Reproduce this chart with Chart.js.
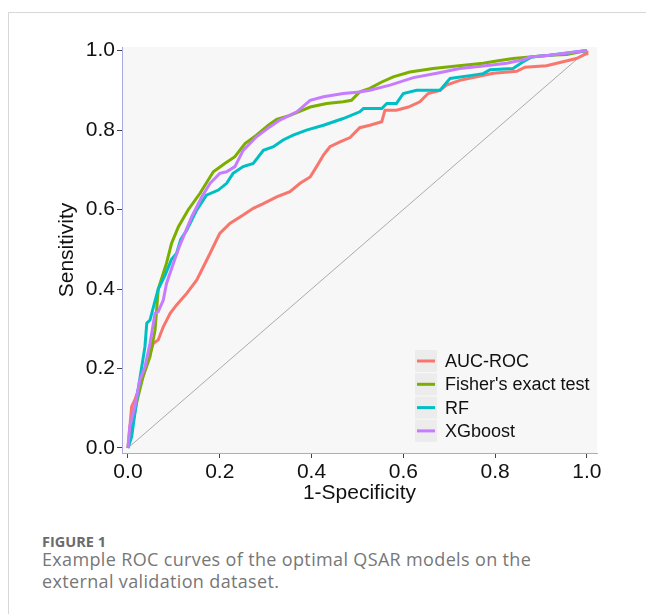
<!DOCTYPE html>
<html>
<head>
<meta charset="utf-8">
<script src="https://cdn.jsdelivr.net/npm/chart.js@4/dist/chart.umd.min.js"></script>
<style>
  html, body { margin: 0; padding: 0; background: #fff; width: 646px; height: 614px; overflow: hidden; }
  #card { position: absolute; left: 8px; top: 12px; right: -2px; bottom: -2px; border-top: 1px solid #d8d8d8; border-left: 1px solid #d8d8d8; }
  #c { position: absolute; left: 0; top: 0; }
  .cap { position: absolute; left: 42px; font-family: "Open Sans", sans-serif; color: #777; white-space: nowrap; }
  #figno { top: 534px; font-size: 14.5px; line-height: 16px; font-weight: 700; color: #6b6b6b; }
  #captext { top: 548px; font-size: 18px; line-height: 22px; letter-spacing: 0.35px; }
</style>
</head>
<body>
<div id="card"></div>
<canvas id="c" width="646" height="520"></canvas>
<div class="cap" id="figno">FIGURE 1</div>
<div class="cap" id="captext">Example ROC curves of the optimal QSAR models on the<br>external validation dataset.</div>
<script>
// ---- data ----
const seriesNames = ["AUC-ROC", "Fisher's exact test", "RF", "XGboost"];
const seriesColors = ["#F8766D", "#7CAE00", "#00BFC4", "#C77CFF"];
const tickValues = [0, 0.2, 0.4, 0.6, 0.8, 1.0];

const aucFpr = [0, 0.008, 0.015, 0.030, 0.044, 0.055, 0.066, 0.077, 0.092, 0.106, 0.128, 0.150, 0.157, 0.179, 0.200, 0.222, 0.251, 0.273, 0.295, 0.324, 0.353, 0.375, 0.397, 0.411, 0.426, 0.440, 0.462, 0.484, 0.505, 0.527, 0.553, 0.560, 0.585, 0.611, 0.636, 0.654, 0.680, 0.694, 0.723, 0.760, 0.796, 0.847, 0.865, 0.912, 0.948, 0.977, 0.999, 1.0];
const aucTpr = [0, 0.104, 0.121, 0.171, 0.221, 0.263, 0.272, 0.305, 0.339, 0.360, 0.389, 0.423, 0.439, 0.490, 0.540, 0.565, 0.586, 0.603, 0.615, 0.632, 0.645, 0.666, 0.682, 0.708, 0.737, 0.758, 0.770, 0.781, 0.806, 0.812, 0.821, 0.850, 0.850, 0.858, 0.871, 0.892, 0.900, 0.913, 0.925, 0.934, 0.943, 0.948, 0.958, 0.962, 0.972, 0.980, 0.992, 1.0];

const fisherFpr = [0, 0.010, 0.020, 0.033, 0.048, 0.059, 0.066, 0.084, 0.095, 0.110, 0.131, 0.157, 0.186, 0.211, 0.233, 0.255, 0.280, 0.306, 0.324, 0.353, 0.397, 0.433, 0.469, 0.487, 0.505, 0.527, 0.553, 0.578, 0.614, 0.665, 0.716, 0.774, 0.803, 0.839, 0.876, 0.919, 0.956, 1.0];
const fisherTpr = [0, 0.060, 0.120, 0.180, 0.230, 0.297, 0.400, 0.465, 0.515, 0.557, 0.599, 0.641, 0.695, 0.716, 0.733, 0.766, 0.787, 0.812, 0.827, 0.837, 0.858, 0.867, 0.871, 0.875, 0.896, 0.905, 0.921, 0.934, 0.946, 0.955, 0.961, 0.968, 0.974, 0.980, 0.984, 0.988, 0.990, 1.0];

const rfFpr = [0, 0.008, 0.022, 0.030, 0.037, 0.041, 0.048, 0.059, 0.066, 0.081, 0.095, 0.106, 0.115, 0.128, 0.150, 0.171, 0.197, 0.215, 0.229, 0.251, 0.273, 0.295, 0.317, 0.338, 0.360, 0.389, 0.426, 0.469, 0.505, 0.513, 0.553, 0.564, 0.585, 0.600, 0.629, 0.680, 0.702, 0.745, 0.774, 0.789, 0.839, 0.861, 0.880, 0.919, 1.0];
const rfTpr = [0, 0.028, 0.146, 0.204, 0.255, 0.314, 0.322, 0.370, 0.400, 0.435, 0.475, 0.490, 0.525, 0.548, 0.599, 0.636, 0.649, 0.666, 0.691, 0.708, 0.716, 0.749, 0.758, 0.775, 0.787, 0.800, 0.812, 0.829, 0.846, 0.854, 0.854, 0.867, 0.867, 0.892, 0.900, 0.900, 0.930, 0.937, 0.942, 0.952, 0.955, 0.972, 0.984, 0.988, 1.0];

const xgbFpr = [0, 0.004, 0.015, 0.026, 0.037, 0.048, 0.059, 0.066, 0.077, 0.084, 0.099, 0.113, 0.139, 0.161, 0.179, 0.200, 0.215, 0.233, 0.251, 0.280, 0.309, 0.331, 0.368, 0.397, 0.426, 0.469, 0.505, 0.527, 0.571, 0.622, 0.673, 0.723, 0.774, 0.825, 0.861, 0.876, 0.919, 1.0];
const xgbTpr = [0, 0.054, 0.104, 0.171, 0.204, 0.263, 0.339, 0.343, 0.372, 0.414, 0.465, 0.510, 0.582, 0.632, 0.666, 0.691, 0.695, 0.708, 0.749, 0.783, 0.808, 0.825, 0.846, 0.875, 0.884, 0.892, 0.896, 0.900, 0.913, 0.932, 0.943, 0.955, 0.961, 0.968, 0.977, 0.984, 0.988, 1.0];

const diagX = [0, 1];
const diagY = [0, 1];

const fprs = [aucFpr, fisherFpr, rfFpr, xgbFpr];
const tprs = [aucTpr, fisherTpr, rfTpr, xgbTpr];
const toPts = (xs, ys) => xs.map((x, i) => ({ x: x, y: ys[i] }));

const FONT = "'Liberation Sans', Arial, sans-serif";

const datasets = seriesNames.map((name, i) => ({
  label: name,
  data: toPts(fprs[i], tprs[i]),
  borderColor: seriesColors[i],
  backgroundColor: seriesColors[i],
  borderWidth: 3,
  pointRadius: 0,
  showLine: true,
  tension: 0,
  fill: false,
  order: 4 - i
}));
datasets.push({
  label: 'diag',
  data: toPts(diagX, diagY),
  borderColor: '#ababab',
  borderWidth: 1,
  pointRadius: 0,
  showLine: true,
  fill: false,
  order: 10
});

const panelBg = {
  id: 'panelBg',
  beforeDraw(chart) {
    const { ctx, chartArea: a } = chart;
    ctx.save();
    ctx.fillStyle = '#f7f7f7';
    ctx.fillRect(a.left, a.top, a.right - a.left, a.bottom - a.top);
    ctx.restore();
  }
};

const legendInside = {
  id: 'legendInside',
  afterDraw(chart) {
    const { ctx, chartArea: a } = chart;
    const x0 = a.left + 293, y0 = a.top + 303, step = 23.3, ks = 22;
    ctx.save();
    ctx.font = '18px ' + FONT;
    ctx.textBaseline = 'middle';
    ctx.textAlign = 'left';
    seriesNames.forEach((name, i) => {
      const y = y0 + i * step;
      ctx.fillStyle = '#ececec';
      ctx.fillRect(x0, y, ks, ks);
      ctx.strokeStyle = seriesColors[i];
      ctx.lineWidth = 3;
      ctx.beginPath();
      ctx.moveTo(x0 + 2, y + ks / 2);
      ctx.lineTo(x0 + ks - 2, y + ks / 2);
      ctx.stroke();
      ctx.fillStyle = '#111';
      ctx.fillText(name, x0 + 30, y + ks / 2 + 1);
    });
    ctx.restore();
  }
};

new Chart(document.getElementById('c'), {
  type: 'scatter',
  data: { datasets },
  options: {
    responsive: false,
    animation: false,
    devicePixelRatio: 1,
    layout: { padding: { left: 0, top: 47, right: 49, bottom: 7 } },
    plugins: { legend: { display: false }, tooltip: { enabled: false } },
    scales: {
      x: {
        type: 'linear',
        min: -0.013, max: 1.022,
        afterBuildTicks: (s) => { s.ticks = tickValues.map(v => ({ value: v })); },
        afterFit: (s) => { s.height = 60; },
        ticks: { callback: (v) => v.toFixed(1), font: { family: FONT, size: 21 }, color: '#111', padding: 2, maxRotation: 0, autoSkip: false },
        grid: { drawOnChartArea: false, drawTicks: true, tickLength: 5, color: '#444', tickWidth: 1 },
        border: { display: true, color: '#a9a9e2', width: 1 },
        title: { display: true, text: '1-Specificity', font: { family: FONT, size: 21, lineHeight: 1.2 }, color: '#111', padding: { top: 0, bottom: 7 } }
      },
      y: {
        type: 'linear',
        min: -0.0126, max: 1.009,
        afterBuildTicks: (s) => { s.ticks = tickValues.map(v => ({ value: v })); },
        afterFit: (s) => { s.width = 122; },
        ticks: { callback: (v) => v.toFixed(1), font: { family: FONT, size: 21 }, color: '#111', padding: 2, autoSkip: false },
        grid: { drawOnChartArea: false, drawTicks: true, tickLength: 5, color: '#444', tickWidth: 1 },
        border: { display: true, color: '#a9a9e2', width: 1 },
        title: { display: true, text: 'Sensitivity', font: { family: FONT, size: 21, lineHeight: 1.2 }, color: '#111', padding: { top: 55, bottom: 0 } }
      }
    }
  },
  plugins: [panelBg, legendInside]
});
</script>
</body>
</html>
